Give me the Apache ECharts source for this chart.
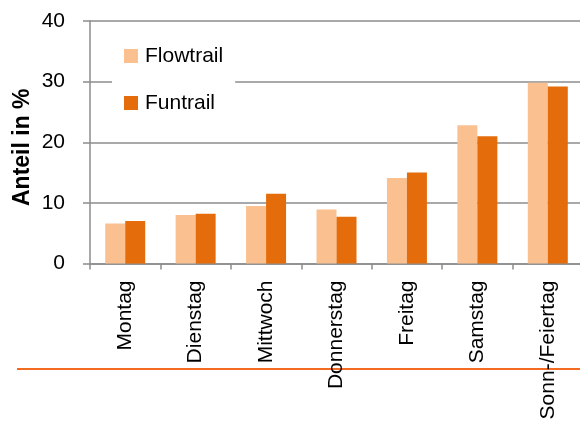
<!DOCTYPE html>
<html>
<head>
<meta charset="utf-8">
<script src="https://cdn.jsdelivr.net/npm/echarts@6/dist/echarts.min.js"></script>
<style>
  html, body { margin: 0; padding: 0; background: #fff; }
  #chart { width: 580px; height: 424px; }
</style>
</head>
<body>
<div id="chart"></div>
<script>
// Wochentage
var days = ['Montag', 'Dienstag', 'Mittwoch', 'Donnerstag', 'Freitag', 'Samstag', 'Sonn-/Feiertag']
// Anteil in %
var flowtrail = [6.6, 8.0, 9.5, 8.9, 14.1, 22.8, 29.8]
var funtrail = [7.0, 8.2, 11.5, 7.7, 15.0, 21.0, 29.2]
var yTicks = [0, 10, 20, 30, 40]

var font = 'Liberation Sans, Arial, sans-serif'
var gray = '#8c8c8c'

var chart = echarts.init(document.getElementById('chart'))
chart.setOption({
  animation: false,
  textStyle: { fontFamily: font },
  grid: {
    left: 90,
    top: 21,
    width: 493,
    height: 242.5,
    outerBoundsMode: 'none'
  },
  legend: {
    data: ['Flowtrail', 'Funtrail'],
    orient: 'vertical',
    left: 112,
    top: 35,
    padding: [10, 12, 10, 12],
    backgroundColor: '#fff',
    itemWidth: 14,
    itemHeight: 14,
    itemGap: 25,
    icon: 'rect',
    textStyle: {
      fontSize: 21,
      lineHeight: 22,
      color: '#000',
      fontFamily: font,
      padding: [0, 0, 0, 2]
    }
  },
  xAxis: {
    type: 'category',
    data: days,
    axisLine: { lineStyle: { color: gray, width: 1.5 } },
    axisTick: { show: true, length: 6, lineStyle: { color: gray, width: 1.5 } },
    axisLabel: {
      rotate: 90,
      margin: 17,
      fontSize: 21,
      color: '#000',
      fontFamily: font,
      interval: 0
    }
  },
  yAxis: {
    type: 'value',
    min: yTicks[0],
    max: yTicks[yTicks.length - 1],
    interval: 10,
    name: 'Anteil in %',
    nameLocation: 'middle',
    nameRotate: 90,
    nameGap: 56,
    nameMoveOverlap: false,
    nameTextStyle: {
      fontSize: 23,
      fontWeight: 'bold',
      color: '#000',
      fontFamily: font,
      padding: [0, 0, 0, -10]
    },
    axisLine: { show: true, lineStyle: { color: gray, width: 1.5 } },
    axisTick: { show: true, length: 7, lineStyle: { color: gray, width: 1.5 } },
    axisLabel: {
      margin: 25,
      fontSize: 21,
      color: '#000',
      fontFamily: font
    },
    splitLine: { lineStyle: { color: gray, width: 1.5 } }
  },
  graphic: [{
    type: 'line',
    z: 0,
    shape: { x1: 17, y1: 369, x2: 580, y2: 369 },
    style: { stroke: '#f26b21', lineWidth: 2 }
  }],
  series: [
    {
      name: 'Flowtrail',
      type: 'bar',
      data: flowtrail,
      barWidth: 20,
      barGap: '0%',
      itemStyle: { color: '#fac090' }
    },
    {
      name: 'Funtrail',
      type: 'bar',
      data: funtrail,
      barWidth: 20,
      barGap: '0%',
      itemStyle: { color: '#e46c0a' }
    }
  ]
})
</script>
</body>
</html>
